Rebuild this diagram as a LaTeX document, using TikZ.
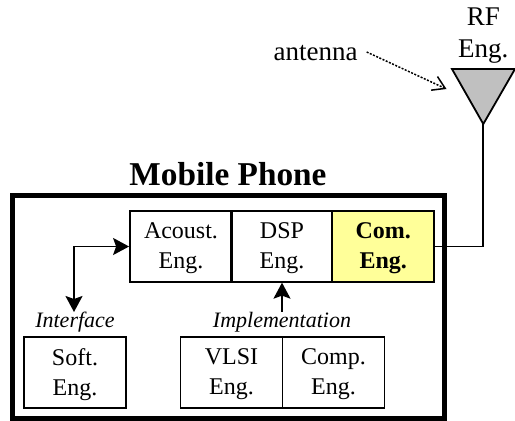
\documentclass[tikz,border=0pt]{standalone}
\usepackage{fontspec}
\setmainfont{Liberation Serif}
\usetikzlibrary{arrows.meta}
\definecolor{comyellow}{RGB}{255,255,153}
\definecolor{antgray}{RGB}{192,192,192}
\tikzset{
  engbox/.style={draw,line width=1.8pt,minimum width=102pt,minimum height=70.5pt,inner sep=0pt,align=center,
    text depth=1pt,font=\fontsize{24}{30}\selectfont},
  note/.style={inner sep=0pt,font=\fontsize{22}{26}\selectfont\itshape},
  bigarrow/.style={line width=1.8pt,-{Stealth[length=16pt,width=17pt,inset=3pt]}}
}
\begin{document}
\begin{tikzpicture}[x=1pt,y=-1pt]
  \useasboundingbox (0,0) rectangle (515,421);
  % phone frame
  \node[draw,line width=5pt,minimum width=432pt,minimum height=222.5pt,inner sep=0pt] (phone) at (228,306.8) {};
  \node[inner sep=0pt,font=\fontsize{33.3}{36}\selectfont\bfseries] (title) at (228,174) {Mobile Phone};
  % top row
  \node[engbox] (acoust) at (181,246.5) {Acoust.\\Eng.};
  \node[engbox] (dsp) at (282,246.5) {DSP\\Eng.};
  \node[engbox,fill=comyellow,font=\fontsize{24}{30}\selectfont\bfseries] (com) at (383.2,246.5) {Com.\\Eng.};
  % bottom row
  \node[engbox] (soft) at (75,372.5) {Soft.\\Eng.};
  \node[engbox] (vlsi) at (231.5,372.5) {VLSI\\Eng.};
  \node[engbox] (comp) at (333.5,372.5) {Comp.\\Eng.};
  % labels
  \node[note] (interface) at (75,322) {Interface};
  \node[note] (impl) at (282,322) {Implementation};
  % antenna
  \coordinate (tip) at (483.3,124);
  \coordinate (antpt) at (446.5,89);
  \draw[line width=1.8pt,fill=antgray,line join=miter] (452,69) -- (515,69) -- (tip) -- cycle;
  \node[inner sep=0pt,align=center,font=\fontsize{27}{32}\selectfont] (rf) at (483.3,36) {RF\\Eng.};
  \node[inner sep=0pt,font=\fontsize{27}{32}\selectfont] (antenna) at (315.5,53) {antenna};
  % connectors
  \draw[line width=1.8pt] (com.east) -| (tip);
  \coordinate (softtop) at (74,312);
  \draw[bigarrow,{Stealth[length=16pt,width=17pt,inset=3pt]}-{Stealth[length=16pt,width=17pt,inset=3pt]}] (softtop) |- (acoust.west);
  \draw[bigarrow] (impl.north-|dsp.south) -- (dsp.south);
  \draw[line width=1.5pt,dash pattern=on 2pt off 1.5pt,-{Straight Barb[length=12pt,width=15pt,line width=1.5pt]}] (antenna.east)+(9,-1) -- (antpt);
\end{tikzpicture}
\end{document}
